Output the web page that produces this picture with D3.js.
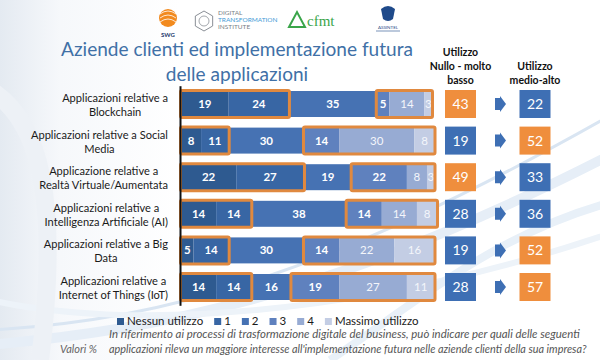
<!DOCTYPE html>
<html><head><meta charset="utf-8">
<script src="https://cdn.jsdelivr.net/npm/d3@7"></script>
<style>body{margin:0;background:#fff;} svg{display:block;}</style>
</head><body><svg id="c" width="600" height="360"></svg>
<script>
// ---------------- DATA ----------------
const categories = [
  "Applicazioni relative a\nBlockchain",
  "Applicazioni relative a Social\nMedia",
  "Applicazione relative a\nRealtà Virtuale/Aumentata",
  "Applicazioni relative a\nIntelligenza Artificiale (AI)",
  "Applicazioni relative a Big\nData",
  "Applicazioni relative a\nInternet of Things (IoT)"
];
const levels = ["Nessun utilizzo", "1", "2", "3", "4", "Massimo utilizzo"];
const nessunUtilizzo = [19, 8, 22, 14, 5, 14];
const livello1 = [24, 11, 27, 14, 14, 14];
const livello2 = [35, 30, 19, 38, 30, 16];
const livello3 = [5, 14, 22, 14, 14, 19];
const livello4 = [14, 30, 8, 14, 22, 27];
const massimoUtilizzo = [3, 8, 3, 8, 16, 11];
const utilizzoBasso = [43, 19, 49, 28, 19, 28];
const utilizzoAlto = [22, 52, 33, 36, 52, 57];
const title = ["Aziende clienti ed implementazione futura", "delle applicazioni"];
const headerBasso = ["Utilizzo", "Nullo - molto", "basso"];
const headerAlto = ["Utilizzo", "medio-alto"];
const footnote = [
  "In riferimento ai processi di trasformazione digitale del business, può indicare per quali delle seguenti",
  "applicazioni rileva un maggiore interesse all'implementazione futura nelle aziende clienti della sua impresa?"
];
const unitNote = "Valori %";

// ---------------- SETUP ----------------
const W = 600, H = 360;
const FONT = "Lato, 'Open Sans', sans-serif";
const svg = d3.select("#c");
const segColors = ["#2E5A90", "#3866A4", "#4672B3", "#5F81BE", "#97ABD3", "#C3CDE4"];
const ORANGE = "#EF8E3D", BLUE = "#3E6FB4", OUTLINE = "#E0893F";

function fitWidth(sel, target) {
  const L = sel.node().getComputedTextLength();
  const fs = parseFloat(sel.attr("font-size"));
  sel.attr("font-size", fs * target / L);
}

// background
const defs = svg.append("defs");
const lg = defs.append("linearGradient").attr("id", "bg").attr("x1", 0).attr("x2", 1).attr("y1", 0).attr("y2", 0);
lg.append("stop").attr("offset", 0).attr("stop-color", "#e4eaf1");
lg.append("stop").attr("offset", 0.1).attr("stop-color", "#f6f8fb");
lg.append("stop").attr("offset", 0.3).attr("stop-color", "#ffffff");
svg.append("rect").attr("width", W).attr("height", H).attr("fill", "url(#bg)");
const sw = svg.append("g").attr("fill", "none");
const swooshes = [
  {d: "M-10,345 C150,330 330,300 620,150", w: 10, c: "#e6eef7"},
  {d: "M-10,330 C170,320 340,270 620,110", w: 3, c: "#d9e5f2"},
  {d: "M-10,300 C120,330 360,320 620,230", w: 6, c: "#edf3f9"},
  {d: "M330,360 C420,300 500,230 620,200", w: 8, c: "#e8f0f8"},
  {d: "M-10,90 C40,120 60,200 40,360", w: 18, c: "#edf1f6"}
];
sw.selectAll("path").data(swooshes).join("path")
  .attr("d", d => d.d).attr("stroke-width", d => d.w).attr("stroke", d => d.c);

// ---------------- LOGOS ----------------
const logos = svg.append("g");
// SWG
logos.append("circle").attr("cx", 168).attr("cy", 18).attr("r", 9).attr("fill", "#F28A1E");
[-4, 0, 4].forEach(o => logos.append("path")
  .attr("d", `M${160},${18 + o} Q168,${12 + o} 176,${18 + o}`)
  .attr("stroke", "#fff").attr("stroke-width", 0.8).attr("fill", "none"));
logos.append("text").attr("x", 168).attr("y", 37).attr("text-anchor", "middle")
  .attr("font-family", FONT).attr("font-weight", 700).attr("font-size", 6).attr("fill", "#1f3a6e").text("SWG");
// Digital Transformation Institute
const hexPts = d3.range(6).map(k => [204 + 10 * Math.cos(Math.PI / 3 * k + Math.PI / 6), 21 + 10 * Math.sin(Math.PI / 3 * k + Math.PI / 6)]);
logos.append("polygon").attr("points", hexPts.map(p => p.join(",")).join(" ")).attr("fill", "none").attr("stroke", "#8a8f96").attr("stroke-width", 1);
logos.append("circle").attr("cx", 204).attr("cy", 21).attr("r", 5).attr("fill", "none").attr("stroke", "#8a8f96").attr("stroke-width", 0.8);
[["DIGITAL", "#7a7f86", 15], ["TRANSFORMATION", "#3f9ad6", 22], ["INSTITUTE", "#7a7f86", 29]].forEach(t =>
  logos.append("text").attr("x", 218).attr("y", t[2]).attr("font-family", FONT).attr("font-size", 6.5).attr("fill", t[1]).text(t[0]));
// acfmt
logos.append("path").attr("d", "M289,27 L297,12 L305,27 Z").attr("fill", "none").attr("stroke", "#3aa54a").attr("stroke-width", 2);
logos.append("text").attr("x", 307).attr("y", 26).attr("font-family", "'Liberation Serif', serif").attr("font-size", 15)
  .attr("fill", "#3aa54a").text("cfmt");
// Assintel
logos.append("path").attr("d", "M381,9 Q388,3 395,9 L393,19 Q388,23 383,19 Z").attr("fill", "#1f4a8a");
logos.append("text").attr("x", 388).attr("y", 29).attr("text-anchor", "middle").attr("font-family", FONT)
  .attr("font-size", 4.5).attr("fill", "#1f4a8a").text("ASSINTEL");
logos.append("line").attr("x1", 376).attr("x2", 400).attr("y1", 31).attr("y2", 31).attr("stroke", "#1f4a8a").attr("stroke-width", 0.6);

// ---------------- TITLE ----------------
const tLine1 = svg.append("text").attr("x", 237).attr("y", 56).attr("text-anchor", "middle")
  .attr("font-family", FONT).attr("font-size", 20).attr("fill", "#4070A6").text(title[0]);
fitWidth(tLine1, 352);
const tfs = tLine1.attr("font-size");
svg.append("text").attr("x", 237).attr("y", 81).attr("text-anchor", "middle")
  .attr("font-family", FONT).attr("font-size", tfs).attr("fill", "#4070A6").text(title[1]);

// headers
const colX = [460.5, 535];
headerBasso.forEach((t, i) => svg.append("text").attr("x", colX[0]).attr("y", 56 + i * 14)
  .attr("text-anchor", "middle").attr("font-family", FONT).attr("font-weight", 700).attr("font-size", 10.5)
  .attr("fill", "#111").text(t));
headerAlto.forEach((t, i) => svg.append("text").attr("x", colX[1]).attr("y", 70 + i * 14)
  .attr("text-anchor", "middle").attr("font-family", FONT).attr("font-weight", 700).attr("font-size", 10.5)
  .attr("fill", "#111").text(t));

// ---------------- SCALES ----------------
const x = d3.scaleLinear().domain([0, 100]).range([181, 432]);
const y = d3.scaleBand().domain(categories).range([85.7, 305.3]).paddingInner(0.29).paddingOuter(0.145);
const bw = y.bandwidth();

const levelValues = [nessunUtilizzo, livello1, livello2, livello3, livello4, massimoUtilizzo];
const table = categories.map((c, i) => {
  const o = {cat: c};
  levels.forEach((l, j) => o[l] = levelValues[j][i]);
  return o;
});
const series = d3.stack().keys(levels)(table);

// bars
const gBars = svg.append("g");
series.forEach((s, j) => {
  const g = gBars.append("g").attr("fill", segColors[j]);
  g.selectAll("rect").data(s).join("rect")
    .attr("x", d => x(d[0])).attr("width", d => x(d[1]) - x(d[0]))
    .attr("y", d => y(d.data.cat)).attr("height", bw);
  g.selectAll("text").data(s).join("text")
    .attr("x", d => (x(d[0]) + x(d[1])) / 2)
    .attr("y", d => y(d.data.cat) + bw / 2 + 4)
    .attr("text-anchor", "middle").attr("font-family", FONT)
    .attr("font-weight", j <= 3 ? 700 : 400).attr("font-size", 11.5)
    .attr("fill", j <= 3 ? "#fff" : "#f4f6fb")
    .text(d => d.data[levels[j]]);
});

// orange highlight boxes
const groups = [[0, 1], [3, 5]];
categories.forEach((c, i) => {
  groups.forEach(([a, b]) => {
    svg.append("rect")
      .attr("x", x(series[a][i][0]) - 0.5).attr("width", x(series[b][i][1]) - x(series[a][i][0]) + 1)
      .attr("y", y(c) - 0.5).attr("height", bw + 1)
      .attr("fill", "none").attr("stroke", OUTLINE).attr("stroke-width", 3).attr("rx", 1.5);
  });
});

// axis line
const ax = svg.append("g").attr("transform", "translate(180,0)")
  .call(d3.axisLeft(y).tickSize(0).tickFormat(""));
ax.select(".domain").attr("stroke", "#111").attr("stroke-width", 2);

// category labels
let catFs = 12;
{
  const probe = svg.append("text").attr("font-family", FONT).attr("font-size", 12).text("Applicazioni relative a");
  catFs = 12 * 106 / probe.node().getComputedTextLength();
  probe.remove();
}
categories.forEach(c => {
  const lines = c.split("\n");
  const cy = y(c) + bw / 2;
  const g = svg.append("g");
  const ts = lines.map((l, k) => g.append("text").attr("y", cy - 2 + k * 14)
    .attr("text-anchor", "middle").attr("font-family", FONT).attr("font-size", catFs).attr("fill", "#1a1a1a").text(l));
  const maxW = d3.max(ts, t => t.node().getComputedTextLength());
  ts.forEach(t => t.attr("x", 168 - maxW / 2));
});

// summary boxes & arrows
const bh = bw + 2;
categories.forEach((c, i) => {
  const cy = y(c) + bw / 2;
  [[utilizzoBasso[i], colX[0]], [utilizzoAlto[i], colX[1]]].forEach(([v, cx]) => {
    svg.append("rect").attr("x", cx - 15.5).attr("y", cy - bh / 2).attr("width", 31).attr("height", bh)
      .attr("fill", v > 40 ? ORANGE : BLUE);
    svg.append("text").attr("x", cx).attr("y", cy + 5).attr("text-anchor", "middle")
      .attr("font-family", FONT).attr("font-size", 14).attr("fill", "#fff").text(v);
  });
  svg.append("path")
    .attr("d", `M495,${cy - 6} H500 V${cy - 8} L506,${cy} L500,${cy + 8} V${cy + 6} H495 Z`)
    .attr("fill", BLUE);
});

// legend
const leg = svg.append("g");
let lx = 117;
levels.forEach((l, j) => {
  leg.append("rect").attr("x", lx).attr("y", 318).attr("width", 7).attr("height", 7).attr("fill", segColors[j]);
  const t = leg.append("text").attr("x", lx + 10).attr("y", 325).attr("font-family", FONT).attr("font-size", 11.5)
    .attr("fill", "#1a1a1a").text(l);
  lx += 10 + t.node().getComputedTextLength() + 11;
});

// footnote
svg.append("text").attr("x", 60).attr("y", 353).attr("font-family", FONT).attr("font-style", "italic")
  .attr("font-size", 11).attr("fill", "#666").text(unitNote);
footnote.forEach((f, k) => {
  const t = svg.append("text").attr("x", 109).attr("y", 338 + k * 15).attr("font-family", FONT)
    .attr("font-style", "italic").attr("font-size", 11).attr("fill", "#555").text(f);
  fitWidth(t, k === 0 ? 471 : 478);
});
</script>
</body></html>
